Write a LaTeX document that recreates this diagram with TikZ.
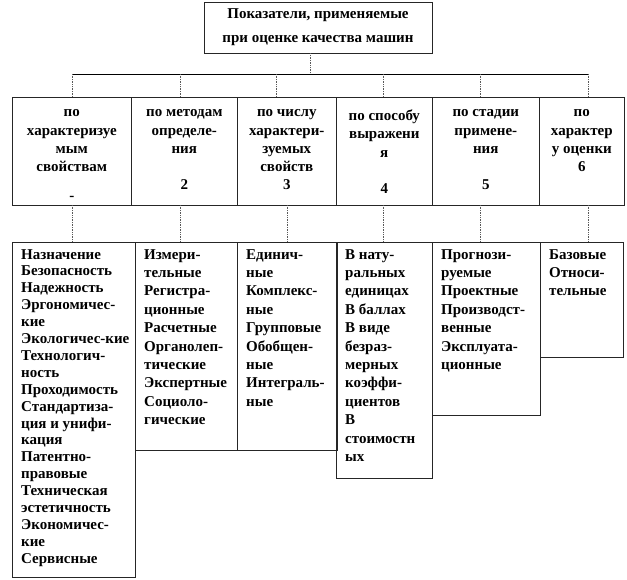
\documentclass[tikz,border=0pt]{standalone}
\usepackage{fontspec}
\setmainfont{Liberation Serif}
\usetikzlibrary{positioning}

\tikzset{
  hbox/.style={draw=black!85, line width=0.6pt, inner sep=0pt, anchor=north west},
  headbox/.style={draw=black!85, line width=0.6pt, inner sep=0pt, align=center,
    minimum width=228, minimum height=51, font=\bfseries\fontsize{15}{24}\selectfont},
  htext/.style={inner sep=0pt, anchor=north, align=center,
    font=\bfseries\fontsize{15}{18.3}\selectfont},
  ltext/.style={inner sep=0pt, anchor=north west, align=left,
    font=\bfseries\fontsize{15}{18.4}\selectfont},
  link/.style={densely dotted, black!65, line width=0.7pt},
  bus/.style={black, line width=0.8pt}
}

\begin{document}
\begin{tikzpicture}[x=1pt, y=-1pt]
\useasboundingbox (0,0) rectangle (627,580);

% heading
\node[headbox] (head) at (318,27.5) {Показатели, применяемые\\при оценке качества машин};

% bus line
\coordinate (hd) at (310,74);
\draw[link] (head.south -| hd) -- (hd);
\foreach \name/\x in {b1/72,b2/180,b3/276,b4/383,b5/480,b6/588} {
  \coordinate (\name) at (\x,74);
}
\draw[bus] (b1) -- (b6);

% upper row
\foreach \name/\x/\w in {c1/12/119,c2/131/106,c3/237/99,c4/336/96,c5/432/107,c6/539/85} {
  \node[hbox, minimum width=\w, minimum height=108] (\name) at (\x,97) {};
}
\node[htext, below=12.5pt of c1.north] (c1t) {по\\характеризуе\\мым\\свойствам\\[11pt]-};
\node[htext, below=12.5pt of c2.north] (c2t) {по методам\\определе-\\ния\\[18.3pt]2};
\node[htext, below=12.5pt of c3.north] (c3t) {по числу\\характери-\\зуемых\\свойств\\3};
\node[htext, below=12.5pt of c4.north] (c4t) {по способу\\выражени\\я\\[18.3pt]4};
\node[htext, below=12.5pt of c5.north] (c5t) {по стадии\\примене-\\ния\\[18.3pt]5};
\node[htext, below=12.5pt of c6.north] (c6t) {по\\характер\\у оценки\\6};
\foreach \i in {1,...,6} {
  \draw[link] (b\i) -- (b\i |- c\i.north);
}

% lower row
\foreach \name/\x/\w/\h in {d1/12/123/335,d2/135/102/208,d3/237/100/208,d4/336/96/236,d5/432/108/173,d6/540/83/115} {
  \node[hbox, minimum width=\w, minimum height=\h] (\name) at (\x,242) {};
}
\foreach \name/\x in {l1/72,l2/180,l3/287,l4/383,l5/480,l6/588} {
  \coordinate (\name) at (\x,205);
}
\foreach \i in {1,...,6} {
  \draw[link] (l\i) -- (l\i |- d\i.north);
}

\node[ltext, font=\bfseries\fontsize{15}{16.9}\selectfont, below right=7pt and 9pt of d1.north west] (d1t)
  {Назначение\\Безопасность\\Надежность\\Эргономичес-\\кие\\Экологичес-кие\\Технологич-\\ность\\Проходимость\\Стандартиза-\\ция и унифи-\\кация\\Патентно-\\правовые\\Техническая\\эстетичность\\Экономичес-\\кие\\Сервисные};
\node[ltext, below right=7pt and 9pt of d2.north west] (d2t)
  {Измери-\\тельные\\Регистра-\\ционные\\Расчетные\\Органолеп-\\тические\\Экспертные\\Социоло-\\гические};
\node[ltext, below right=7pt and 9pt of d3.north west] (d3t)
  {Единич-\\ные\\Комплекс-\\ные\\Групповые\\Обобщен-\\ные\\Интеграль-\\ные};
\node[ltext, below right=7pt and 9pt of d4.north west] (d4t)
  {В нату-\\ральных\\единицах\\В баллах\\В виде\\безраз-\\мерных\\коэффи-\\циентов\\В\\стоимостн\\ых};
\node[ltext, below right=7pt and 9pt of d5.north west] (d5t)
  {Прогнози-\\руемые\\Проектные\\Производст-\\венные\\Эксплуата-\\ционные};
\node[ltext, below right=7pt and 9pt of d6.north west] (d6t)
  {Базовые\\Относи-\\тельные};
\end{tikzpicture}
\end{document}
